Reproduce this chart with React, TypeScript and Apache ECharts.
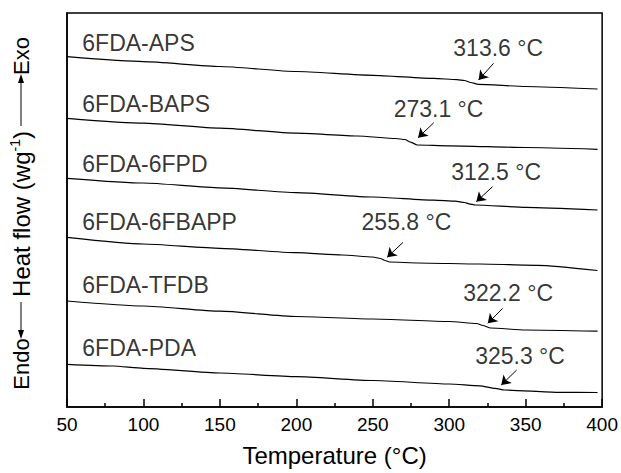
import React, { useEffect, useRef } from "react";
import * as echarts from "echarts";

// Temperature samples (°C) and heat-flow values (arbitrary stacked units) per curve
const apsT = [50, 100, 150, 200, 250, 290, 305, 310, 314, 319, 350, 397];
const apsV = [88.91, 87.66, 86.42, 85.15, 84.19, 83.4, 83.1, 82.87, 82.36, 81.9, 81.35, 80.71];

const bapsT = [50, 100, 150, 200, 240, 265, 271, 275, 279, 300, 350, 397];
const bapsV = [73.27, 72.03, 70.76, 69.49, 68.78, 68.15, 67.89, 67.18, 66.5, 66.29, 65.86, 65.41];

const fpdT = [50, 100, 150, 200, 250, 290, 304, 310, 313, 317, 350, 397];
const fpdV = [58.05, 56.85, 55.61, 54.42, 53.3, 52.49, 52.23, 51.9, 51.57, 51.27, 50.69, 50.0];

const fbappT = [50, 100, 150, 200, 230, 250, 255, 258, 261, 280, 320, 358, 397];
const fbappV = [43.07, 41.37, 40.28, 39.16, 38.58, 38.07, 37.69, 37.18, 36.8, 36.55, 36.29, 35.96, 34.64];

const tfdbT = [50, 100, 150, 200, 250, 300, 318, 322, 327, 350, 397];
const tfdbV = [26.9, 25.63, 24.31, 22.97, 22.34, 21.7, 21.19, 20.69, 20.05, 19.54, 19.24];

const pdaT = [50, 80, 100, 150, 200, 250, 300, 320, 330, 336, 371, 397];
const pdaV = [10.84, 10.41, 9.82, 8.63, 7.72, 6.73, 5.84, 5.38, 4.75, 4.31, 3.73, 3.68];

const seriesNames = ["6FDA-APS", "6FDA-BAPS", "6FDA-6FPD", "6FDA-6FBAPP", "6FDA-TFDB", "6FDA-PDA"];
const seriesT = [apsT, bapsT, fpdT, fbappT, tfdbT, pdaT];
const seriesV = [apsV, bapsV, fpdV, fbappV, tfdbV, pdaV];

// Name label anchors (left edge) in data units
const nameLabelT = [60, 60, 60, 60, 60, 60];
const nameLabelV = [92.39, 76.9, 61.68, 46.95, 30.96, 14.97];

// Tg annotations
const tgLabels = ["313.6 °C", "273.1 °C", "312.5 °C", "255.8 °C", "322.2 °C", "325.3 °C"];
const tgLabelT = [332.0, 293.0, 330.7, 272.0, 338.5, 346.3];
const tgLabelV = [91.19, 75.63, 59.72, 47.03, 29.01, 12.94];
const arrowFromT = [329.0, 289.9, 328.3, 269.8, 335.0, 344.1];
const arrowFromV = [87.23, 72.16, 55.91, 41.8, 25.05, 9.39];
const arrowToT = [319.2, 279.6, 317.7, 259.4, 325.2, 334.0];
const arrowToV = [83.0, 68.35, 52.11, 37.99, 21.24, 5.58];

const xTicks = { min: 50, max: 400, interval: 50 };

const FONT = "'Liberation Sans', Arial, Helvetica, sans-serif";

export default function App() {
  const ref = useRef<HTMLDivElement>(null);

  useEffect(() => {
    document.body.style.margin = "0";
    if (!ref.current) return;
    const chart = echarts.init(ref.current, undefined, { renderer: "svg" });

    const lineSeries = seriesNames.map((name, i) => ({
      type: "line",
      name,
      data: seriesT[i].map((t, k) => [t, seriesV[i][k]]),
      showSymbol: false,
      symbol: "none",
      smooth: 0.2,
      smoothMonotone: "x",
      lineStyle: { color: "#000", width: 1.2 },
      silent: true,
      z: 3,
    }));

    const option: any = {
      animation: false,
      textStyle: { fontFamily: FONT },
      grid: {
        left: 67,
        right: 17,
        top: 13,
        bottom: 66,
        show: true,
        borderColor: "#000",
        borderWidth: 1.5,
        backgroundColor: "transparent",
      },
      xAxis: {
        type: "value",
        min: xTicks.min,
        max: xTicks.max,
        interval: xTicks.interval,
        name: "Temperature (°C)",
        nameLocation: "middle",
        nameGap: 36,
        nameTextStyle: { fontSize: 24, color: "#000", fontFamily: FONT },
        axisLine: { show: true, onZero: false, lineStyle: { color: "#000", width: 1.5 } },
        axisTick: { show: true, inside: true, length: 8, lineStyle: { color: "#000", width: 1.5 } },
        minorTick: { show: true, splitNumber: 2, length: 4, lineStyle: { color: "#000", width: 1.5 } },
        axisLabel: { fontSize: 19, color: "#000", margin: 8, fontFamily: FONT },
        splitLine: { show: false },
        minorSplitLine: { show: false },
      },
      yAxis: {
        type: "value",
        min: 0,
        max: 100,
        axisLine: { show: true, onZero: false, lineStyle: { color: "#000", width: 1.5 } },
        axisTick: { show: false },
        axisLabel: { show: false },
        splitLine: { show: false },
      },
      series: [
        ...lineSeries,
        {
          type: "lines",
          coordinateSystem: "cartesian2d",
          symbol: ["none", "arrow"],
          symbolSize: [0, 9],
          lineStyle: { color: "#000", width: 1, opacity: 1 },
          silent: true,
          data: arrowFromT.map((t, i) => ({
            coords: [
              [t, arrowFromV[i]],
              [arrowToT[i], arrowToV[i]],
            ],
          })),
          z: 4,
        },
        {
          type: "scatter",
          symbolSize: 0,
          itemStyle: { color: "rgba(0,0,0,0)" },
          silent: true,
          data: tgLabels.map((s, i) => [tgLabelT[i], tgLabelV[i], s]),
          label: {
            show: true,
            position: "inside",
            formatter: (p: any) => p.value[2],
            fontSize: 23,
            color: "#000",
            fontFamily: FONT,
          },
          z: 5,
        },
        {
          type: "scatter",
          symbolSize: 0,
          itemStyle: { color: "rgba(0,0,0,0)" },
          silent: true,
          data: seriesNames.map((s, i) => [nameLabelT[i], nameLabelV[i], s]),
          label: {
            show: true,
            position: "right",
            distance: 0,
            formatter: (p: any) => p.value[2],
            fontSize: 23,
            color: "#000",
            fontFamily: FONT,
          },
          z: 5,
        },
      ],
      graphic: [
        {
          type: "text",
          x: 21,
          y: 56,
          rotation: Math.PI / 2,
          style: { text: "Exo", fontSize: 22, fill: "#000", fontFamily: FONT, align: "center", verticalAlign: "middle" },
        },
        { type: "line", shape: { x1: 21, y1: 126, x2: 21, y2: 82 }, style: { stroke: "#000", lineWidth: 1 } },
        { type: "polygon", shape: { points: [[21, 74], [18, 83], [24, 83]] }, style: { fill: "#000" } },
        {
          type: "text",
          x: 21,
          y: 214,
          rotation: Math.PI / 2,
          style: {
            text: "Heat flow (wg{s|-1})",
            fontSize: 24,
            fill: "#000",
            fontFamily: FONT,
            align: "center",
            verticalAlign: "middle",
            rich: {
              s: { fontSize: 14, fill: "#000", fontFamily: FONT, verticalAlign: "top", lineHeight: 27 },
            },
          },
        },
        { type: "line", shape: { x1: 21, y1: 302, x2: 21, y2: 331 }, style: { stroke: "#000", lineWidth: 1 } },
        { type: "polygon", shape: { points: [[21, 339], [18, 330], [24, 330]] }, style: { fill: "#000" } },
        {
          type: "text",
          x: 21,
          y: 364,
          rotation: Math.PI / 2,
          style: { text: "Endo", fontSize: 22, fill: "#000", fontFamily: FONT, align: "center", verticalAlign: "middle" },
        },
      ],
    };

    chart.setOption(option);
    return () => chart.dispose();
  }, []);

  return <div ref={ref} style={{ width: 621, height: 473 }} />;
}
